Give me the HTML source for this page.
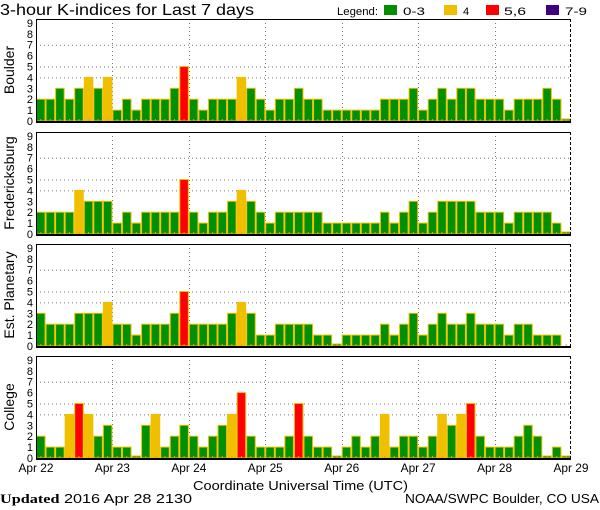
<!DOCTYPE html>
<html><head><meta charset="utf-8"><style>
body{margin:0;background:#fff;}
svg{display:block;font-family:"Liberation Sans",sans-serif;}
</style></head><body>
<svg id="c" width="600" height="510" xmlns="http://www.w3.org/2000/svg">
<text x="0" y="15" font-size="16" textLength="254" lengthAdjust="spacingAndGlyphs">3-hour K-indices for Last 7 days</text>
<g font-size="11">
<text x="337" y="15" textLength="41" lengthAdjust="spacingAndGlyphs">Legend:</text>
<rect x="384" y="5" width="13" height="10" fill="#009000"/>
<text x="403" y="15" textLength="22" lengthAdjust="spacingAndGlyphs">0-3</text>
<rect x="444" y="5" width="13" height="10" fill="#f0c000"/>
<text x="463" y="15">4</text>
<rect x="486" y="5" width="13" height="10" fill="#ff0000"/>
<text x="504" y="15" textLength="22" lengthAdjust="spacingAndGlyphs">5,6</text>
<rect x="546" y="5" width="13" height="10" fill="#400080"/>
<text x="565" y="15" textLength="22" lengthAdjust="spacingAndGlyphs">7-9</text>
</g>
<text x="193" y="490" font-size="13" textLength="215" lengthAdjust="spacingAndGlyphs">Coordinate Universal Time (UTC)</text>
<text x="0" y="503" font-size="13" textLength="192" lengthAdjust="spacingAndGlyphs"><tspan font-weight="bold" font-family="Liberation Serif, serif">Updated</tspan> 2016 Apr 28 2130</text>
<text x="405" y="503" font-size="13" textLength="194" lengthAdjust="spacingAndGlyphs">NOAA/SWPC Boulder, CO USA</text>
</svg>
<script>
const stations = ["Boulder","Fredericksburg","Est. Planetary","College"];
const boulder = [2,2,3,2,3,4,3,4, 1,2,1,2,2,2,3,5, 2,1,2,2,2,4,3,2, 1,2,2,3,2,2,1,1, 1,1,1,1,2,2,2,3, 1,2,3,2,3,3,2,2, 2,1,2,2,2,3,2,0];
const fredericksburg = [2,2,2,2,4,3,3,3, 1,2,1,2,2,2,2,5, 2,1,2,2,3,4,3,2, 1,2,2,2,2,2,1,1, 1,1,1,1,2,1,2,3, 1,2,3,3,3,3,2,2, 2,1,2,2,2,2,1,0];
const planetary = [3,2,2,2,3,3,3,4, 2,2,1,2,2,2,3,5, 2,2,2,2,3,4,3,1, 1,2,2,2,2,1,1,0, 1,1,1,1,2,1,2,3, 1,2,3,2,2,3,2,2, 2,1,2,2,1,1,1,null];
const college = [2,1,1,4,5,4,2,3, 1,1,0,3,4,1,2,3, 2,1,2,3,4,6,2,1, 1,1,2,5,2,1,1,0, 1,2,1,2,4,1,2,2, 1,2,4,3,4,5,2,1, 1,1,2,3,2,0,1,0];
const dayLabels = ["Apr 22","Apr 23","Apr 24","Apr 25","Apr 26","Apr 27","Apr 28","Apr 29"];
const yTicks = [0,1,2,3,4,5,6,7,8,9];

const series = [boulder, fredericksburg, planetary, college];
const NS = "http://www.w3.org/2000/svg";
const svg = document.getElementById('c');
const X0 = 36, X1 = 571, N = 56;
const bw = (X1 - X0) / N;
const panelTops = [19,132,244,356];
const PH = 102, UNIT = 10.9;
function xs(i){ return X0 + i * bw; }
function mk(tag, attrs, parent){ const e = document.createElementNS(NS, tag); for (const k in attrs) e.setAttribute(k, attrs[k]); (parent||svg).appendChild(e); return e; }
function color(v){ return v >= 7 ? "#400080" : v >= 5 ? "#ff0000" : v >= 4 ? "#f0c000" : "#009000"; }

series.forEach((data, p) => {
  const top = panelTops[p], bot = top + PH;
  const ys = v => bot - v * UNIT;
  const g = mk('g', {});
  
  
  [4,5,7].forEach(v => {
    const l = mk('line', {x1:X0, x2:X1, y1:ys(v)+0.5, y2:ys(v)+0.5, stroke:'#777', 'stroke-dasharray':'1,3'}, g);
    
    
  });
  for (let d = 1; d < 7; d++) {
    const x = Math.round(xs(d*8)) + 0.5;
    const l = mk('line', {x1:x, x2:x, y1:top, y2:bot, stroke:'#777', 'stroke-dasharray':'1,3'}, g);
    
    
  }
  data.forEach((v, i) => {
    if (v === null) return;
    const h = v === 0 ? 2 : v * UNIT;
    const r = mk('rect', {x:xs(i)+0.5, y:bot - h, width:bw-1, height:h, fill:color(v), stroke:'#f0c000', 'stroke-width':1}, g);
    
    
  });
  for (let i = 0; i < N; i++) {
    const t = mk('line', {x1:xs(i)+bw/2, x2:xs(i)+bw/2, y1:bot-2, y2:bot, stroke:'#f0a000', 'stroke-width':1}, g);
    
    
  }
  mk('line', {x1:X0, x2:X1, y1:top+0.5, y2:top+0.5, stroke:'#000'}, g);
  mk('line', {x1:X0+0.5, x2:X0+0.5, y1:top, y2:bot, stroke:'#000'}, g);
  mk('line', {x1:X1-0.5, x2:X1-0.5, y1:top, y2:bot, stroke:'#000', 'stroke-dasharray':'3,2'}, g);
  mk('line', {x1:X0, x2:X1, y1:bot+1, y2:bot+1, stroke:'#000', 'stroke-width':2}, g);
  yTicks.forEach(v => {
    const t = mk('text', {x:33, y:ys(v)+4, 'font-size':11, 'text-anchor':'end'}, g);
    t.textContent = v;
    
    
  });
  const yl = mk('text', {x:0, y:0, 'font-size':14, 'text-anchor':'middle', transform:'translate(14,' + (top + PH/2) + ') rotate(-90)'}, g);
  yl.textContent = stations[p];
  
  
});

dayLabels.forEach((lab, d) => {
  const t = mk('text', {x:xs(d*8), y:472, 'font-size':12, 'text-anchor':'middle', textLength:35, lengthAdjust:'spacingAndGlyphs'});
  t.textContent = lab;
  
  
});
</script>
</body></html>
